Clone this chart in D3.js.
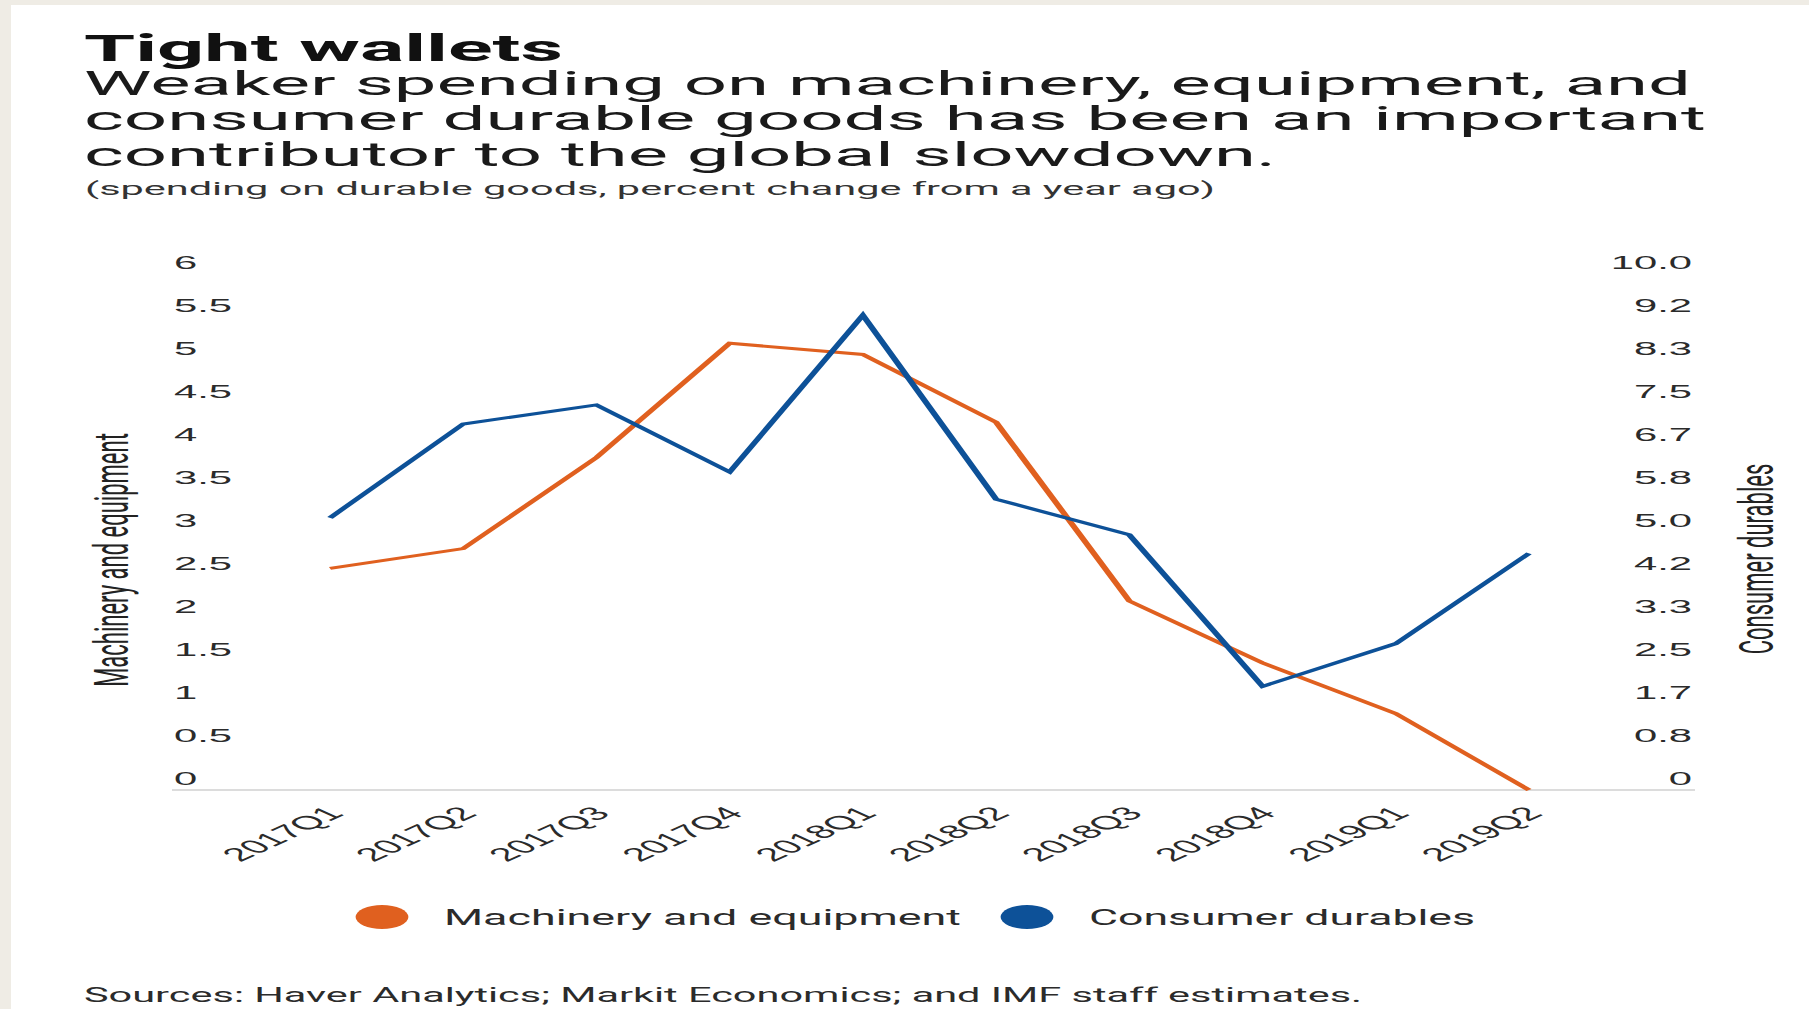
<!DOCTYPE html>
<html>
<head>
<meta charset="utf-8">
<script src="https://cdn.jsdelivr.net/npm/d3@7"></script>
<style>
  html, body { margin: 0; padding: 0; background: #efece5; }
  svg { display: block; font-family: Roboto, "Noto Sans", sans-serif; }
</style>
</head>
<body>
<svg id="chart" width="1809" height="1009"></svg>
<script>
// Data
const quarters = ["2017Q1", "2017Q2", "2017Q3", "2017Q4", "2018Q1",
                  "2018Q2", "2018Q3", "2018Q4", "2019Q1", "2019Q2"];
const machinery = [2.58, 2.81, 3.87, 5.2, 5.07, 4.28, 2.2, 1.48, 0.89, 0.0];
const consumer = [5.28, 7.1, 7.47, 6.17, 9.21, 5.64, 4.95, 2.01, 2.84, 4.59];

const leftTicks = [0, 0.5, 1, 1.5, 2, 2.5, 3, 3.5, 4, 4.5, 5, 5.5, 6];
const rightTickLabels = ["0", "0.8", "1.7", "2.5", "3.3", "4.2", "5.0",
                         "5.8", "6.7", "7.5", "8.3", "9.2", "10.0"];

const seriesNames = ["Machinery and equipment", "Consumer durables"];
const colors = ["#e0601f", "#0d5198"];

const title = "Tight wallets";
const subtitle = [
  "Weaker spending on machinery, equipment, and",
  "consumer durable goods has been an important",
  "contributor to the global slowdown."
];
const note = "(spending on durable goods, percent change from a year ago)";
const sources = "Sources: Haver Analytics; Markit Economics; and IMF staff estimates.";

// The reference picture is stretched sideways, so draw narrow and scale x
const S = 2.2;
const ax = v => v / S; // screen px -> inner x

const svg = d3.select("#chart");

// card background
svg.append("rect").attr("width", 1809).attr("height", 1009).attr("fill", "#efece5");
svg.append("rect").attr("x", 11).attr("y", 5).attr("width", 1809).attr("height", 1009).attr("fill", "#fff");

const g = svg.append("g").attr("transform", `scale(${S},1)`);

// Scales
const x = d3.scalePoint().domain(quarters).range([ax(330), ax(1529)]);
const yLeft = d3.scaleLinear().domain([0, 6]).range([790, 274.5]);
const yRight = d3.scaleLinear().domain([0, 10]).range([790, 274.5]);

// Header texts
g.append("text")
  .attr("x", ax(84)).attr("y", 61)
  .attr("font-size", 37.5).attr("font-weight", 700).attr("fill", "#111")
  .attr("textLength", ax(479)).attr("lengthAdjust", "spacingAndGlyphs")
  .text(title);

const subWidths = [1607, 1622, 1192];
const subBase = [95.5, 130.5, 166];
subtitle.forEach((line, i) => {
  g.append("text")
    .attr("x", ax(84)).attr("y", subBase[i])
    .attr("font-size", 33).attr("fill", "#1a1a1a")
    .attr("textLength", ax(subWidths[i])).attr("lengthAdjust", "spacingAndGlyphs")
    .text(line);
});

g.append("text")
  .attr("x", ax(85)).attr("y", 195)
  .attr("font-size", 19).attr("fill", "#333")
  .attr("textLength", ax(1130)).attr("lengthAdjust", "spacingAndGlyphs")
  .text(note);

// Baseline axis line
g.append("line")
  .attr("x1", ax(172)).attr("x2", ax(1695))
  .attr("y1", yLeft(0)).attr("y2", yLeft(0))
  .attr("stroke", "#d0d0d0").attr("stroke-width", 1.5);

// X axis labels
const xAxis = g.append("g")
  .attr("transform", `translate(0,${yLeft(0)})`)
  .call(d3.axisBottom(x).tickSize(0));
xAxis.select(".domain").remove();
xAxis.selectAll("text")
  .attr("y", 0).attr("dy", 0)
  .attr("text-anchor", "end")
  .attr("transform", "translate(6.4,24.6) rotate(-45)")
  .attr("font-size", 19).attr("font-family", null).attr("fill", "#2b2b2b");

// Left axis labels
const leftAxis = g.append("g")
  .call(d3.axisLeft(yLeft).tickValues(leftTicks).tickSize(0).tickFormat(d => String(d)));
leftAxis.select(".domain").remove();
leftAxis.selectAll("text")
  .attr("x", ax(174)).attr("dy", 0).attr("y", -5.7)
  .attr("text-anchor", "start")
  .attr("font-size", 19).attr("font-family", null).attr("fill", "#2b2b2b");

// Right axis labels (10 split into 12 steps)
const rightValues = rightTickLabels.map((d, i) => (i * 10) / 12);
const rightAxis = g.append("g")
  .call(d3.axisRight(yRight).tickValues(rightValues).tickSize(0)
    .tickFormat((d, i) => rightTickLabels[i]));
rightAxis.select(".domain").remove();
rightAxis.selectAll("text")
  .attr("x", ax(1692)).attr("dy", 0).attr("y", -5.7)
  .attr("text-anchor", "end")
  .attr("font-size", 19).attr("font-family", null).attr("fill", "#2b2b2b");

// Axis titles
g.append("text")
  .attr("transform", `translate(${ax(128)},560) rotate(-90)`)
  .attr("text-anchor", "middle")
  .attr("font-size", 22).attr("fill", "#222")
  .text(seriesNames[0]);

g.append("text")
  .attr("transform", `translate(${ax(1773)},559) rotate(-90)`)
  .attr("text-anchor", "middle")
  .attr("font-size", 22).attr("fill", "#222")
  .text(seriesNames[1]);

// Lines
const lineLeft = d3.line().x((d, i) => x(quarters[i])).y(d => yLeft(d));
const lineRight = d3.line().x((d, i) => x(quarters[i])).y(d => yRight(d));

g.append("path")
  .datum(machinery)
  .attr("d", lineLeft)
  .attr("fill", "none")
  .attr("stroke", colors[0])
  .attr("stroke-width", 3);

g.append("path")
  .datum(consumer)
  .attr("d", lineRight)
  .attr("fill", "none")
  .attr("stroke", colors[1])
  .attr("stroke-width", 3);

// Legend
const legendDot = [382, 1027];
const legendText = [444, 1089];
const legendWidth = [517, 386];
seriesNames.forEach((name, i) => {
  g.append("circle")
    .attr("cx", ax(legendDot[i])).attr("cy", 917).attr("r", 12)
    .attr("fill", colors[i]);
  g.append("text")
    .attr("x", ax(legendText[i])).attr("y", 925.5)
    .attr("font-size", 22).attr("fill", "#2b2b2b")
    .attr("textLength", ax(legendWidth[i])).attr("lengthAdjust", "spacingAndGlyphs")
    .text(name);
});

// Sources
g.append("text")
  .attr("x", ax(84)).attr("y", 1002.5)
  .attr("font-size", 20).attr("fill", "#2b2b2b")
  .attr("textLength", ax(1278)).attr("lengthAdjust", "spacingAndGlyphs")
  .text(sources);
</script>
</body>
</html>
